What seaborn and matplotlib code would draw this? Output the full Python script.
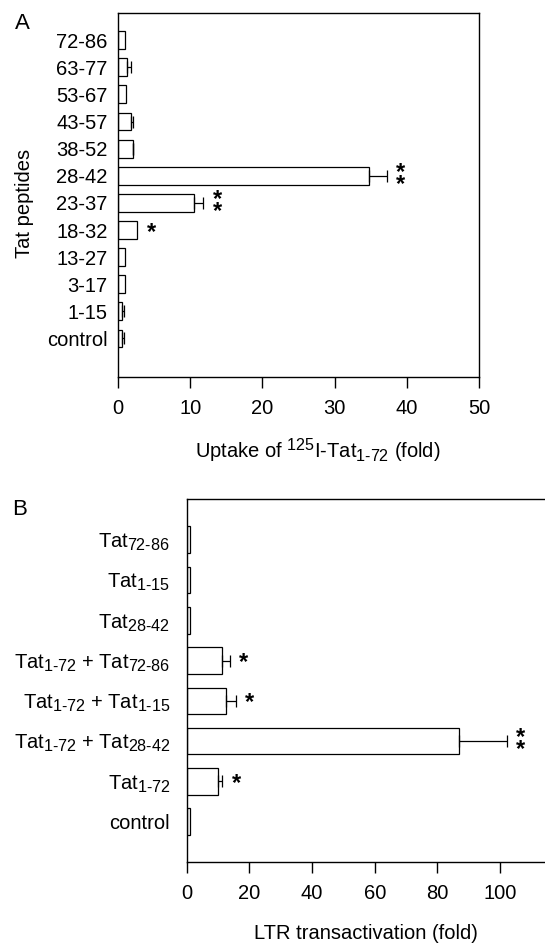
import matplotlib
matplotlib.use('Agg')
import matplotlib.pyplot as plt
import matplotlib._mathtext as mtext
import numpy as np
import pandas as pd
import seaborn as sns

# panel A: uptake of 125I-Tat1-72 in presence of Tat peptides
peptides = ['72-86', '63-77', '53-67', '43-57', '38-52', '28-42',
            '23-37', '18-32', '13-27', '3-17', '1-15', 'control']
uptake = [0.93, 1.2, 1.05, 1.8, 2.03, 34.7, 10.5, 2.67, 0.93, 0.97, 0.6, 0.6]
uptake_err = [0, 0.65, 0, 0.25, 0.05, 2.5, 1.3, 0, 0, 0, 0.25, 0.25]
uptake_sig = ['', '', '', '', '', '**', '**', '*', '', '', '', '']

# panel B: LTR transactivation
treatments = [r'Tat$_{\text{72-86}}$', r'Tat$_{\text{1-15}}$', r'Tat$_{\text{28-42}}$',
              r'Tat$_{\text{1-72}}$ + Tat$_{\text{72-86}}$',
              r'Tat$_{\text{1-72}}$ + Tat$_{\text{1-15}}$',
              r'Tat$_{\text{1-72}}$ + Tat$_{\text{28-42}}$',
              r'Tat$_{\text{1-72}}$', 'control']
ltr = [1.0, 1.0, 1.0, 11.2, 12.4, 86.9, 9.9, 0.9]
ltr_err = [0, 0, 0, 2.6, 3.3, 15.2, 1.5, 0]
ltr_sig = ['', '', '', '*', '*', '**', '*', '']

# subscripts in the original are bigger than mathtext's default
mtext.SHRINK_FACTOR = 0.8

sns.set_style('ticks')
plt.rcParams['font.family'] = ['Liberation Sans', 'DejaVu Sans']
plt.rcParams['mathtext.fontset'] = 'custom'
plt.rcParams['mathtext.rm'] = 'Liberation Sans'
plt.rcParams['mathtext.it'] = 'Liberation Sans:italic'
plt.rcParams['mathtext.bf'] = 'Liberation Sans:bold'
plt.rcParams['axes.linewidth'] = 1.0
plt.rcParams['axes.edgecolor'] = 'black'
plt.rcParams['text.color'] = 'black'
plt.rcParams['axes.labelcolor'] = 'black'


def draw_panel(ax, names, vals, errs, sig, ylab_pad):
    df = pd.DataFrame({'name': names, 'val': vals})
    sns.barplot(x='val', y='name', data=df, orient='h', order=names, color='white',
                edgecolor='black', linewidth=0.9, width=0.66, saturation=1, ax=ax)
    pos = np.arange(len(names))
    vals = np.array(vals)
    errs = np.array(errs)
    m = errs > 0
    ax.errorbar(vals[m], pos[m], xerr=[np.zeros(m.sum()), errs[m]], fmt='none',
                ecolor='black', elinewidth=0.9, capsize=4.5, capthick=0.9)
    for i, s in enumerate(sig):
        if not s:
            continue
        if len(s) > 1:
            # double stars are stacked vertically in the original
            ax.annotate('*\n*', xy=(vals[i] + errs[i], i), xytext=(10, -2),
                        textcoords='offset points', ha='center', va='center',
                        linespacing=0.4, fontsize=17, fontweight='bold')
        else:
            ax.annotate(s, xy=(vals[i] + errs[i], i), xytext=(10, -1.5),
                        textcoords='offset points', ha='center', va='center',
                        fontsize=17, fontweight='bold')
    ax.tick_params(axis='y', length=0, pad=ylab_pad, labelsize=14.5, colors='black')
    ax.tick_params(axis='x', length=8, width=1.0, direction='out', pad=8, labelsize=14.5,
                   colors='black')


fig = plt.figure(figsize=(5.45, 9.43), dpi=100)

axA = fig.add_axes([0.2165, 0.6002, 0.6624, 0.386])
draw_panel(axA, peptides, uptake, uptake_err, uptake_sig, 7.5)
axA.set_ylim(12.42, -1.0)
axA.set_xlim(0, 50)
axA.set_xticks([0, 10, 20, 30, 40, 50])
axA.set_xlabel(r'Uptake of $^{\text{125}}$I-Tat$_{\text{1-72}}$ (fold)', fontsize=14.5)
axA.xaxis.set_label_coords(0.554, -0.163)
axA.set_ylabel('Tat peptides', fontsize=14.5)
axA.yaxis.set_label_coords(-0.232, 0.477)

axB = fig.add_axes([0.3426, 0.0859, 0.6574, 0.3846])
draw_panel(axB, treatments, ltr, ltr_err, ltr_sig, 12)
axB.set_ylim(8.0, -1.0)
axB.set_xlim(0, 114.3)
axB.set_xticks([0, 20, 40, 60, 80, 100])
axB.spines['right'].set_visible(False)
axB.set_xlabel('LTR transactivation (fold)', fontsize=14.5)
axB.xaxis.set_label_coords(0.5, -0.172)
axB.set_ylabel('')

fig.text(15 / 545, 1 - 13 / 943, 'A', ha='left', va='top', fontsize=16)
fig.text(12 / 545, 1 - 499 / 943, 'B', ha='left', va='top', fontsize=16)

fig.savefig('out.png', dpi=100)
